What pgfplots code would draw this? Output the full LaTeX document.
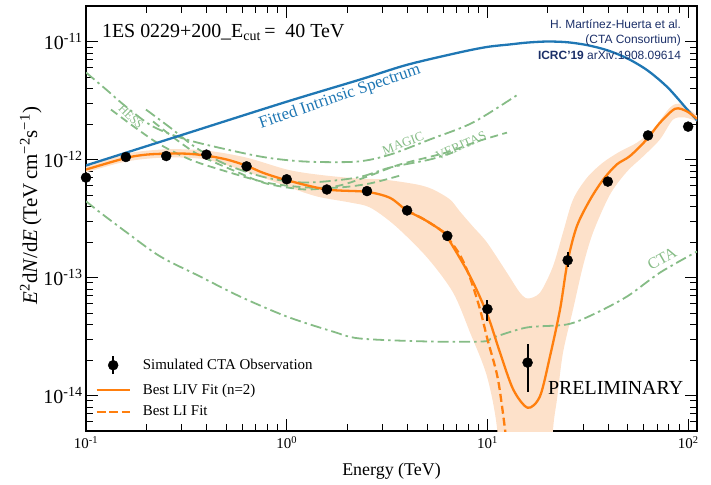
\documentclass[border=0pt]{standalone}
\usepackage{fontspec}
\setmainfont{Liberation Serif}
\setsansfont{Liberation Sans}
\usepackage{pgfplots}
\pgfplotsset{compat=1.18}
\usepgfplotslibrary{fillbetween}
\definecolor{tabblue}{RGB}{31,119,180}
\definecolor{taborange}{RGB}{255,127,14}
\definecolor{bandc}{RGB}{253,225,202}
\definecolor{sens}{RGB}{134,188,134}
\definecolor{navy}{RGB}{28,48,105}
\tikzset{dashdotg/.style={dash pattern=on 11bp off 4bp on 2.5bp off 4bp},
         dashedg/.style={dash pattern=on 8bp off 4.5bp}}
\begin{document}
\begin{tikzpicture}
\begin{axis}[
  scale only axis, width=611bp, height=425bp,
  xmode=log, ymode=log,
  xmin=0.1, xmax=110.7, ymin=5e-15, ymax=2e-11,
  xtick={0.1,1,10,100},
  xticklabels={10\textsuperscript{-1},10\textsuperscript{0},10\textsuperscript{1},10\textsuperscript{2}},
  ytick={1e-14,1e-13,1e-12,1e-11},
  yticklabels={10\textsuperscript{-14},10\textsuperscript{-13},10\textsuperscript{-12},10\textsuperscript{-11}},
  minor xtick={0.2,0.3,0.4,0.5,0.6,0.7,0.8,0.9,2,3,4,5,6,7,8,9,20,30,40,50,60,70,80,90},
  minor ytick={6e-15,7e-15,8e-15,9e-15,2e-14,3e-14,4e-14,5e-14,6e-14,7e-14,8e-14,9e-14,2e-13,3e-13,4e-13,5e-13,6e-13,7e-13,8e-13,9e-13,2e-12,3e-12,4e-12,5e-12,6e-12,7e-12,8e-12,9e-12,2e-11},
  tick align=inside, major tick length=12bp, minor tick length=7bp,
  every tick/.style={black, line width=0.8bp},
  axis line style={line width=1.1bp},
  xticklabel style={font=\fontsize{15}{15}\selectfont, yshift=-2bp},
  yticklabel style={font=\fontsize{20}{20}\selectfont},
  xlabel={Energy (TeV)},
  xlabel style={font=\fontsize{18}{18}\selectfont, at={(axis description cs:0.5,0)}, anchor=base, yshift=-44bp},
  ylabel={\textit{E}\textsuperscript{2}d\textit{N}/d\textit{E}\,(TeV\,cm\textsuperscript{−2}s\textsuperscript{−1})},
  ylabel style={font=\fontsize{21}{21}\selectfont, at={(axis description cs:-0.0905,0.53)}, anchor=center},
  legend style={draw=none, fill=none, at={(axis description cs:0.012,0.022)}, anchor=south west,
    font=\fontsize{15}{15}\selectfont, row sep=6.5bp, column sep=10bp, inner sep=2bp},
  legend cell align=left,
]
\coordinate (sw) at (rel axis cs:0,0);
\coordinate (ne) at (rel axis cs:1,1);

% uncertainty band
\addplot[name path=up, draw=none, smooth, forget plot] coordinates {
 (0.1,8.72e-13) (0.1582,1.12e-12) (0.2504,1.22e-12) (0.3963,1.19e-12) (0.6266,1.04e-12)
 (1.003,8.22e-13) (1.416,7.46e-13) (2.24,6.90e-13) (3.02,6.77e-13) (4.46,6.14e-13)
 (5.36,5.57e-13) (6.51,4.58e-13) (7.30,3.62e-13) (8.47,2.70e-13) (9.95,1.98e-13)
 (12.5,1.10e-13) (14.5,7.46e-14) (15.9,6.64e-14) (18.3,7.46e-14) (21.2,1.24e-13)
 (23.8,2.41e-13) (26.7,4.58e-13) (31.4,7.04e-13) (37.7,9.44e-13) (45.8,1.17e-12)
 (55.6,1.39e-12) (66.8,1.80e-12) (81.3,2.76e-12) (91.0,2.98e-12) (102,2.65e-12) (110.7,2.36e-12)
};
\addplot[name path=lo, draw=none, smooth, forget plot] coordinates {
 (0.1,7.76e-13) (0.1582,9.62e-13) (0.2504,1.04e-12) (0.3963,1.0e-12) (0.6266,7.91e-13)
 (1.003,5.90e-13) (1.416,4.86e-13) (2.07,4.32e-13) (2.60,3.92e-13) (3.46,2.76e-13)
 (5.0,1.48e-13) (6.74,7.46e-14) (8.19,3.42e-14) (9.95,1.45e-14) (11.2,5.05e-15)
 (11.8,1e-15) (20.0,1e-15) (21.2,5.05e-15) (22.2,9.25e-15) (23.8,2.31e-14)
 (26.7,5.36e-14) (29.9,1.24e-13) (33.6,2.41e-13) (40.8,5.05e-13) (49.6,7.91e-13)
 (59.6,1.06e-12) (72.4,1.48e-12) (84.1,2.18e-12) (96.6,2.27e-12) (110.7,2.10e-12)
};
\addplot[bandc, forget plot] fill between[of=up and lo];

% sensitivity curves
\addplot[sens, line width=1.8bp, dashdotg, smooth, forget plot] coordinates {
 (0.1,5.46e-12) (0.126,3.92e-12) (0.158,2.81e-12) (0.216,1.90e-12) (0.315,1.48e-12)
 (0.499,1.22e-12) (0.789,1.04e-12) (1.25,9.6e-13) (2.24,9.6e-13) (3.27,1.10e-12)
 (5.18,1.48e-12) (8.48,2.06e-12) (14.2,3.56e-12)
};
\addplot[sens, line width=1.8bp, dashedg, smooth, forget plot] coordinates {
 (0.1332,2.65e-12) (0.1754,1.87e-12) (0.2337,1.34e-12) (0.3298,1.0e-12) (0.4653,8.22e-13)
 (0.7886,6.38e-13) (1.248,5.80e-13) (1.843,5.80e-13) (2.600,6.27e-13) (3.668,7.31e-13)
};
\addplot[sens, line width=1.8bp, dashdotg, smooth, forget plot] coordinates {
 (0.199,2.65e-12) (0.262,1.87e-12) (0.3533,1.26e-12) (0.4984,9.08e-13) (0.789,7.03e-13)
 (1.248,6.38e-13) (2.239,7.03e-13) (3.271,8.55e-13) (5.176,1.0e-12) (6.741,1.15e-12)
};
\addplot[sens, line width=1.8bp, dashedg, smooth, forget plot] coordinates {
 (0.2158,2.10e-12) (0.2808,1.48e-12) (0.370,1.08e-12) (0.559,7.91e-13) (0.789,6.27e-13)
 (1.248,5.57e-13) (1.843,6.03e-13) (2.600,7.31e-13) (3.668,9.08e-13) (6.29,1.15e-12)
 (8.877,1.42e-12) (12.52,1.69e-12)
};
% CTA
\addplot[sens, line width=1.8bp, dashdotg, smooth, forget plot] coordinates {
 (0.1,4.43e-13) (0.1175,3.56e-13) (0.160,2.40e-13) (0.234,1.51e-13) (0.370,1.02e-13)
 (0.585,6.9e-14) (1.0,4.67e-14) (1.70,3.48e-14) (2.32,3.04e-14) (5.0,2.87e-14)
 (9.5,2.87e-14) (10.7,3.1e-14) (15.7,3.77e-14) (24.9,4.0e-14) (33.6,4.86e-14)
 (49.6,6.9e-14) (72.4,1.10e-13) (110.7,1.66e-13)
};

% intrinsic spectrum
\addplot[tabblue, line width=2.3bp, smooth, forget plot] coordinates {
 (0.1,8.91e-13) (0.3162,1.66e-12) (1.0,3.09e-12) (2.32,4.76e-12) (3.981,6.35e-12)
 (7.30,8.1e-12) (10.0,9.0e-12) (12.96,9.45e-12) (15.85,9.8e-12) (19.95,1.0e-11)
 (25.12,9.85e-12) (31.62,9.3e-12) (39.81,8.4e-12) (50.12,7.15e-12) (63.10,5.65e-12)
 (79.43,4.05e-12) (100,2.6e-12) (110.7,2.15e-12)
};

% LIV fit
\addplot[taborange, line width=2.3bp, smooth, forget plot] coordinates {
 (0.1,8.22e-13) (0.158,1.03e-12) (0.200,1.10e-12) (0.251,1.12e-12) (0.318,1.12e-12)
 (0.396,1.08e-12) (0.502,1.0e-12) (0.627,8.89e-13) (0.764,7.71e-13) (1.0,6.68e-13)
 (1.58,5.57e-13) (2.50,5.32e-13) (3.27,4.73e-13) (3.96,3.70e-13) (4.78,3.14e-13)
 (5.80,2.55e-13) (6.28,2.22e-13) (8.18,1.03e-13) (9.99,4.85e-14) (11.56,2.30e-14)
 (13.46,1.12e-14) (15.88,7.87e-15) (18.28,9.87e-15) (20.5,2.15e-14) (23.0,5.36e-14)
 (25.1,1.37e-13) (27.9,2.72e-13) (32.5,4.58e-13) (37.8,6.78e-13) (44.1,9.08e-13)
 (51.3,1.07e-12) (62.2,1.48e-12) (72.4,2.05e-12) (86.1,2.69e-12) (98.5,2.56e-12) (110.7,2.21e-12)
};

% LI fit
\addplot[taborange, line width=2.3bp, dash pattern=on 8bp off 4bp, smooth, forget plot] coordinates {
 (3.96,3.70e-13) (4.78,3.14e-13) (5.80,2.55e-13) (6.28,2.22e-13) (7.30,1.55e-13)
 (8.18,1.0e-13) (9.18,5.4e-14) (10.0,3.0e-14) (11.29,1.37e-14) (12.3,4.8e-15)
};

% data
\addplot[only marks, mark=*, mark size=5bp, black, forget plot,
  error bars/.cd, y dir=both, y explicit, error mark=none,
  error bar style={line width=2bp, black}]
  coordinates {
 (0.1,7.03e-13) +=(0,0) -=(0,0)
 (0.158,1.05e-12) +=(0,0) -=(0,0)
 (0.251,1.07e-12) +=(0,0) -=(0,0)
 (0.398,1.10e-12) +=(0,0) -=(0,0)
 (0.631,8.75e-13) +=(0,0) -=(0,0)
 (1.0,6.8e-13) +=(0,0) -=(0,0)
 (1.585,5.57e-13) +=(0,0) -=(0,0)
 (2.512,5.4e-13) +=(0,0) -=(0,0)
 (3.98,3.7e-13) +=(0,0) -=(0,0)
 (6.31,2.25e-13) +=(0,0) -=(0,0)
 (10.0,5.4e-14) +=(0,1.1e-14) -=(0,1.1e-14)
 (15.85,1.9e-14) +=(0,0.85e-14) -=(0,0.82e-14)
 (25.1,1.4e-13) +=(0,0.26e-13) -=(0,0.18e-13)
 (39.8,6.5e-13) +=(0,0) -=(0,0)
 (63.1,1.6e-12) +=(0,0) -=(0,0)
 (100,1.9e-12) +=(0,0) -=(0,0)
};

\addlegendimage{legend image code/.code={\draw[black, line width=2bp] (16.5bp,-9bp) -- (16.5bp,9bp); \fill[black] (16.5bp,0bp) circle (5bp);}}
\addlegendentry{Simulated CTA Observation}
\addlegendimage{legend image code/.code={\draw[taborange, line width=2.3bp] (0bp,0bp) -- (33bp,0bp);}}
\addlegendentry{Best LIV Fit (n=2)}
\addlegendimage{legend image code/.code={\draw[taborange, line width=2.3bp, dash pattern=on 9bp off 3.5bp] (0bp,0bp) -- (33bp,0bp);}}
\addlegendentry{Best LI Fit}

% labels
\node[tabblue, rotate=19, font=\fontsize{17}{17}\selectfont, inner sep=0] at (axis cs:1.84,3.39e-12) {Fitted Intrinsic Spectrum};
\node[sens, rotate=-45, font=\fontsize{12}{12}\selectfont, inner sep=0] at (axis cs:0.1675,2.31e-12) {HESS};
\node[sens, rotate=21, font=\fontsize{13}{13}\selectfont, inner sep=0] at (axis cs:3.80,1.37e-12) {MAGIC};
\node[sens, rotate=24, font=\fontsize{13}{13}\selectfont, inner sep=0] at (axis cs:7.38,1.31e-12) {VERITAS};
\node[sens, rotate=30, font=\fontsize{16}{16}\selectfont, inner sep=0] at (axis cs:74.1,1.45e-13) {CTA};
\node[anchor=base west, inner sep=0, font=\fontsize{20}{20}\selectfont] at (rel axis cs:0.026,0.927) {1ES 0229+200\_E\textsubscript{cut}\,=\ \ 40 TeV};
\node[anchor=north east, inner sep=0, align=right, navy, font=\sffamily\fontsize{12}{15.5}\selectfont] at (rel axis cs:0.974,0.969) {H. Martínez-Huerta et al.\\(CTA Consortium)\\\textbf{ICRC’19} arXiv:1908.09614};
\node[anchor=base west, inner sep=0, font=\fontsize{20}{20}\selectfont] at (rel axis cs:0.756,0.085) {PRELIMINARY};
\end{axis}
\pgfresetboundingbox
\path ([shift={(-86bp,-53bp)}]sw) rectangle ([shift={(14bp,6bp)}]ne);
\end{tikzpicture}
\end{document}
